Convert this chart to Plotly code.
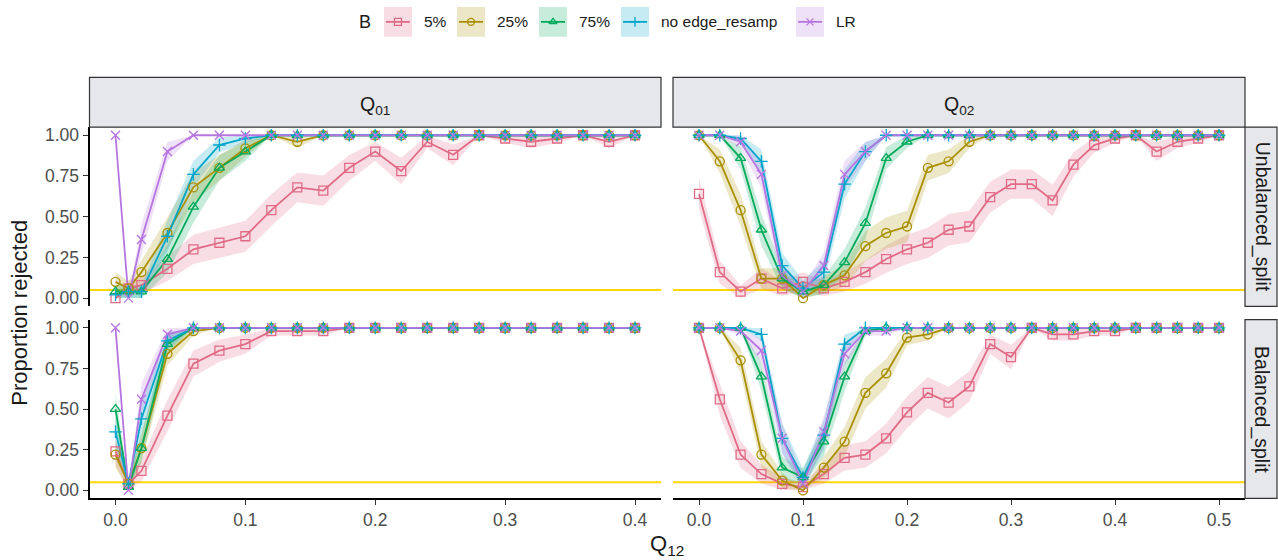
import numpy as np
import plotly.graph_objects as go

# ---- series definitions -------------------------------------------------
B_LEVELS = ["5%", "25%", "75%", "no edge_resamp", "LR"]
COLORS = ["#E16A86", "#AA9000", "#00AA5A", "#00A6CA", "#B675E0"]
SYMBOLS = ["square-open", "circle-open", "triangle-up-open", "cross-thin-open", "x-thin-open"]
N_REP = 100  # simulation replicates per point (for the binomial band)

# ---- x grids (Q12) -------------------------------------------------------
q01_x = [0.00, 0.01, 0.02, 0.04, 0.06, 0.08, 0.10, 0.12, 0.14, 0.16, 0.18,
         0.20, 0.22, 0.24, 0.26, 0.28, 0.30, 0.32, 0.34, 0.36, 0.38, 0.40]
q02_x = [0.00, 0.02, 0.04, 0.06, 0.08, 0.10, 0.12, 0.14, 0.16, 0.18, 0.20,
         0.22, 0.24, 0.26, 0.28, 0.30, 0.32, 0.34, 0.36, 0.38, 0.40, 0.42,
         0.44, 0.46, 0.48, 0.50]

# ---- Unbalanced_split, Q01 ------------------------------------------------
unbal_q01_b5 = [0.00, 0.06, 0.08, 0.18, 0.30, 0.34, 0.38, 0.54, 0.68, 0.66, 0.80,
                0.90, 0.78, 0.96, 0.88, 1.00, 0.98, 0.96, 0.98, 1.00, 0.96, 1.00]
unbal_q01_b25 = [0.10, 0.06, 0.16, 0.40, 0.68, 0.80, 0.92, 1.00, 0.96, 1.00, 1.00,
                 1.00, 1.00, 1.00, 1.00, 1.00, 1.00, 1.00, 1.00, 1.00, 1.00, 1.00]
unbal_q01_b75 = [0.04, 0.04, 0.04, 0.24, 0.56, 0.80, 0.90, 1.00, 1.00, 1.00, 1.00,
                 1.00, 1.00, 1.00, 1.00, 1.00, 1.00, 1.00, 1.00, 1.00, 1.00, 1.00]
unbal_q01_noedge = [0.02, 0.04, 0.04, 0.38, 0.76, 0.94, 0.98, 1.00, 1.00, 1.00, 1.00,
                    1.00, 1.00, 1.00, 1.00, 1.00, 1.00, 1.00, 1.00, 1.00, 1.00, 1.00]
unbal_q01_lr = [1.00, 0.00, 0.36, 0.90, 1.00, 1.00, 1.00, 1.00, 1.00, 1.00, 1.00,
                1.00, 1.00, 1.00, 1.00, 1.00, 1.00, 1.00, 1.00, 1.00, 1.00, 1.00]

# ---- Unbalanced_split, Q02 ------------------------------------------------
unbal_q02_b5 = [0.64, 0.16, 0.04, 0.12, 0.06, 0.10, 0.06, 0.10, 0.16, 0.24, 0.30,
                0.34, 0.42, 0.44, 0.62, 0.70, 0.70, 0.60, 0.82, 0.94, 0.98, 1.00,
                0.90, 0.96, 0.98, 1.00]
unbal_q02_b25 = [1.00, 0.84, 0.54, 0.12, 0.12, 0.00, 0.08, 0.14, 0.32, 0.40, 0.44,
                 0.80, 0.84, 0.96, 1.00, 1.00, 1.00, 1.00, 1.00, 1.00, 1.00, 1.00,
                 1.00, 1.00, 1.00, 1.00]
unbal_q02_b75 = [1.00, 1.00, 0.86, 0.42, 0.12, 0.04, 0.08, 0.22, 0.46, 0.86, 0.96,
                 1.00, 1.00, 1.00, 1.00, 1.00, 1.00, 1.00, 1.00, 1.00, 1.00, 1.00,
                 1.00, 1.00, 1.00, 1.00]
unbal_q02_noedge = [1.00, 1.00, 0.98, 0.84, 0.20, 0.06, 0.16, 0.70, 0.90, 1.00, 1.00,
                    1.00, 1.00, 1.00, 1.00, 1.00, 1.00, 1.00, 1.00, 1.00, 1.00, 1.00,
                    1.00, 1.00, 1.00, 1.00]
unbal_q02_lr = [1.00, 1.00, 0.96, 0.76, 0.14, 0.04, 0.20, 0.76, 0.90, 1.00, 1.00,
                1.00, 1.00, 1.00, 1.00, 1.00, 1.00, 1.00, 1.00, 1.00, 1.00, 1.00,
                1.00, 1.00, 1.00, 1.00]

# ---- Balanced_split, Q01 --------------------------------------------------
bal_q01_b5 = [0.24, 0.04, 0.12, 0.46, 0.78, 0.86, 0.90, 0.98, 0.98, 0.98, 1.00,
              1.00, 1.00, 1.00, 1.00, 1.00, 1.00, 1.00, 1.00, 1.00, 1.00, 1.00]
bal_q01_b25 = [0.22, 0.04, 0.26, 0.84, 0.98, 1.00, 1.00, 1.00, 1.00, 1.00, 1.00,
               1.00, 1.00, 1.00, 1.00, 1.00, 1.00, 1.00, 1.00, 1.00, 1.00, 1.00]
bal_q01_b75 = [0.50, 0.02, 0.26, 0.90, 1.00, 1.00, 1.00, 1.00, 1.00, 1.00, 1.00,
               1.00, 1.00, 1.00, 1.00, 1.00, 1.00, 1.00, 1.00, 1.00, 1.00, 1.00]
bal_q01_noedge = [0.36, 0.04, 0.44, 0.92, 1.00, 1.00, 1.00, 1.00, 1.00, 1.00, 1.00,
                  1.00, 1.00, 1.00, 1.00, 1.00, 1.00, 1.00, 1.00, 1.00, 1.00, 1.00]
bal_q01_lr = [1.00, 0.00, 0.56, 0.96, 1.00, 1.00, 1.00, 1.00, 1.00, 1.00, 1.00,
              1.00, 1.00, 1.00, 1.00, 1.00, 1.00, 1.00, 1.00, 1.00, 1.00, 1.00]

# ---- Balanced_split, Q02 --------------------------------------------------
bal_q02_b5 = [1.00, 0.56, 0.22, 0.10, 0.04, 0.02, 0.10, 0.20, 0.22, 0.32, 0.48,
              0.60, 0.54, 0.64, 0.90, 0.82, 1.00, 0.96, 0.96, 0.98, 0.98, 1.00,
              1.00, 1.00, 1.00, 1.00]
bal_q02_b25 = [1.00, 1.00, 0.80, 0.22, 0.06, 0.00, 0.14, 0.30, 0.60, 0.72, 0.94,
               0.96, 1.00, 1.00, 1.00, 1.00, 1.00, 1.00, 1.00, 1.00, 1.00, 1.00,
               1.00, 1.00, 1.00, 1.00]
bal_q02_b75 = [1.00, 1.00, 1.00, 0.70, 0.14, 0.08, 0.30, 0.70, 0.98, 1.00, 1.00,
               1.00, 1.00, 1.00, 1.00, 1.00, 1.00, 1.00, 1.00, 1.00, 1.00, 1.00,
               1.00, 1.00, 1.00, 1.00]
bal_q02_noedge = [1.00, 1.00, 1.00, 0.96, 0.32, 0.08, 0.34, 0.90, 1.00, 1.00, 1.00,
                  1.00, 1.00, 1.00, 1.00, 1.00, 1.00, 1.00, 1.00, 1.00, 1.00, 1.00,
                  1.00, 1.00, 1.00, 1.00]
bal_q02_lr = [1.00, 1.00, 0.98, 0.86, 0.32, 0.04, 0.36, 0.84, 0.98, 0.98, 1.00,
              1.00, 1.00, 1.00, 1.00, 1.00, 1.00, 1.00, 1.00, 1.00, 1.00, 1.00,
              1.00, 1.00, 1.00, 1.00]

ALPHA_LEVEL = 0.05
ROW_LABELS = ["Unbalanced_split", "Balanced_split"]
COL_LABELS = ["Q<sub>01</sub>", "Q<sub>02</sub>"]
X_TICKS = [[0.0, 0.1, 0.2, 0.3, 0.4], [0.0, 0.1, 0.2, 0.3, 0.4, 0.5]]
Y_TICKS = [0.00, 0.25, 0.50, 0.75, 1.00]

# panel table: (row, col, x, [series per B level])
panels = [
    (0, 0, q01_x, [unbal_q01_b5, unbal_q01_b25, unbal_q01_b75, unbal_q01_noedge, unbal_q01_lr]),
    (0, 1, q02_x, [unbal_q02_b5, unbal_q02_b25, unbal_q02_b75, unbal_q02_noedge, unbal_q02_lr]),
    (1, 0, q01_x, [bal_q01_b5, bal_q01_b25, bal_q01_b75, bal_q01_noedge, bal_q01_lr]),
    (1, 1, q02_x, [bal_q02_b5, bal_q02_b25, bal_q02_b75, bal_q02_noedge, bal_q02_lr]),
]

# ---- page geometry (pixels) ----------------------------------------------
W, H = 1278, 560
COL_PX = [(89.5, 661.0), (673.0, 1245.0)]
ROW_PX = [(126.0, 306.5), (320.0, 500.0)]
STRIP_TOP = (76.0, 126.0)
STRIP_RIGHT = (1245.0, 1277.0)
FONT = "Liberation Sans, Arial, Helvetica, sans-serif"
TICK_SIZE, TITLE_SIZE, STRIP_SIZE = 17.5, 22, 19.5


def fx(px):
    return px / W


def fy(px):
    return 1 - px / H


def rgba(hex_color, a):
    h = hex_color.lstrip("#")
    r, g, b = (int(h[i:i + 2], 16) for i in (0, 2, 4))
    return f"rgba({r},{g},{b},{a})"


def band(p):
    p = np.asarray(p, dtype=float)
    half = 1.96 * np.sqrt(p * (1 - p) / N_REP)
    return np.clip(p - half, 0, 1), np.clip(p + half, 0, 1)


def label(text, x, y, size, angle=0, **kw):
    return dict(text=text, x=x, y=y, textangle=angle, showarrow=False,
                xanchor=kw.pop("xanchor", "center"), yanchor="middle",
                xref=kw.pop("xref", "paper"), yref=kw.pop("yref", "paper"),
                font=dict(size=size, color="#1A1A1A"), **kw)


fig = go.Figure()
layout = dict(
    width=W, height=H, margin=dict(l=0, r=0, t=0, b=0),
    paper_bgcolor="white", plot_bgcolor="rgba(0,0,0,0)",
    showlegend=False, font=dict(family=FONT, color="#1A1A1A"),
)
shapes, annotations = [], []

for idx, (r, c, xs, series) in enumerate(panels, start=1):
    xa = "x" if idx == 1 else f"x{idx}"
    ya = "y" if idx == 1 else f"y{idx}"
    xname = "xaxis" if idx == 1 else f"xaxis{idx}"
    yname = "yaxis" if idx == 1 else f"yaxis{idx}"
    xmax = X_TICKS[c][-1]
    pad = 0.05 * xmax
    bottom = r == 1
    left = c == 0
    layout[xname] = dict(
        domain=[fx(COL_PX[c][0]), fx(COL_PX[c][1])], anchor=ya,
        range=[-pad, xmax + pad], tickvals=X_TICKS[c],
        ticktext=[f"{v:.1f}" for v in X_TICKS[c]],
        showticklabels=bottom, ticks="outside" if bottom else "",
        ticklen=5, tickcolor="#333333", tickwidth=1,
        tickfont=dict(size=TICK_SIZE, color="#4D4D4D"),
        showline=bottom, linecolor="black", linewidth=2,
        showgrid=False, zeroline=False,
    )
    layout[yname] = dict(
        domain=[fy(ROW_PX[r][1]), fy(ROW_PX[r][0])], anchor=xa,
        range=[-0.05, 1.05], tickvals=Y_TICKS,
        ticktext=[f"{v:.2f}" for v in Y_TICKS],
        showticklabels=left, ticks="outside" if left else "",
        ticklen=5, tickcolor="#333333", tickwidth=1,
        tickfont=dict(size=TICK_SIZE, color="#4D4D4D"),
        showline=left, linecolor="black", linewidth=2,
        showgrid=False, zeroline=False,
    )

    # reference level
    shapes.append(dict(type="line", xref=f"{xa} domain", yref=ya, x0=0, x1=1,
                       y0=ALPHA_LEVEL, y1=ALPHA_LEVEL, layer="below",
                       line=dict(color="#FFD700", width=2)))

    # ribbons, then lines, then points
    for vals, col in zip(series, COLORS):
        lo, hi = band(vals)
        fig.add_trace(go.Scatter(
            x=list(xs) + list(xs)[::-1], y=list(hi) + list(lo)[::-1],
            fill="toself", fillcolor=rgba(col, 0.22), mode="lines",
            line=dict(width=0), hoverinfo="skip", xaxis=xa, yaxis=ya))
    for vals, col in zip(series, COLORS):
        fig.add_trace(go.Scatter(
            x=xs, y=vals, mode="lines", line=dict(color=col, width=1.8),
            hoverinfo="skip", xaxis=xa, yaxis=ya))
    for name, vals, col, sym in zip(B_LEVELS, series, COLORS, SYMBOLS):
        fig.add_trace(go.Scatter(
            x=xs, y=vals, mode="markers", name=name,
            marker=dict(symbol=sym, size=9, color=col, line=dict(color=col, width=1.3)),
            xaxis=xa, yaxis=ya))

# ---- facet strips ---------------------------------------------------------
for c, lab in enumerate(COL_LABELS):
    x0, x1 = COL_PX[c]
    shapes.append(dict(type="rect", xref="paper", yref="paper",
                       x0=fx(x0), x1=fx(x1), y0=fy(STRIP_TOP[1]), y1=fy(STRIP_TOP[0]),
                       fillcolor="#E5E7EB", line=dict(color="#333333", width=1.2)))
    annotations.append(label(lab, fx((x0 + x1) / 2), fy(sum(STRIP_TOP) / 2 + 3), STRIP_SIZE))
for r, lab in enumerate(ROW_LABELS):
    y0, y1 = ROW_PX[r]
    shapes.append(dict(type="rect", xref="paper", yref="paper",
                       x0=fx(STRIP_RIGHT[0]), x1=fx(STRIP_RIGHT[1]), y0=fy(y1), y1=fy(y0),
                       fillcolor="#E5E7EB", line=dict(color="#333333", width=1.2)))
    annotations.append(label(lab, fx(sum(STRIP_RIGHT) / 2 + 1), fy((y0 + y1) / 2),
                             STRIP_SIZE, angle=90))

# ---- axis titles ----------------------------------------------------------
annotations.append(label("Proportion rejected", fx(20),
                         fy((ROW_PX[0][0] + ROW_PX[1][1]) / 2), TITLE_SIZE, angle=-90))
annotations.append(label("Q<sub>12</sub>", fx((COL_PX[0][0] + COL_PX[1][1]) / 2),
                         fy(547), TITLE_SIZE))

# ---- legend (drawn on a pixel-unit overlay axis) -------------------------
KEY_LEFT = [384, 457, 539, 621, 796]
KEY_W, KEY_TOP, KEY_BOT, KEY_MID = 28, 5, 35, 20
layout["xaxis5"] = dict(domain=[0, 1], range=[0, W], visible=False, fixedrange=True, anchor="y5")
layout["yaxis5"] = dict(domain=[0, 1], range=[H, 0], visible=False, fixedrange=True, anchor="x5")
annotations.append(label("B", 373, KEY_MID, 18, xanchor="right", xref="x5", yref="y5"))
for kx, name, col, sym in zip(KEY_LEFT, B_LEVELS, COLORS, SYMBOLS):
    shapes.append(dict(type="rect", xref="x5", yref="y5", x0=kx, x1=kx + KEY_W,
                       y0=KEY_TOP, y1=KEY_BOT, fillcolor=rgba(col, 0.22), line=dict(width=0)))
    shapes.append(dict(type="line", xref="x5", yref="y5", x0=kx + 2, x1=kx + KEY_W - 2,
                       y0=KEY_MID, y1=KEY_MID, line=dict(color=col, width=1.8)))
    fig.add_trace(go.Scatter(
        x=[kx + KEY_W / 2], y=[KEY_MID], mode="markers",
        marker=dict(symbol=sym, size=7, color=col, line=dict(color=col, width=1.3)),
        hoverinfo="skip", xaxis="x5", yaxis="y5"))
    annotations.append(label(name, kx + 38, KEY_MID, 15.5, xanchor="left",
                             xref="x5", yref="y5"))

layout["shapes"] = shapes
layout["annotations"] = annotations
fig.update_layout(**layout)
fig.write_html("out.html")
